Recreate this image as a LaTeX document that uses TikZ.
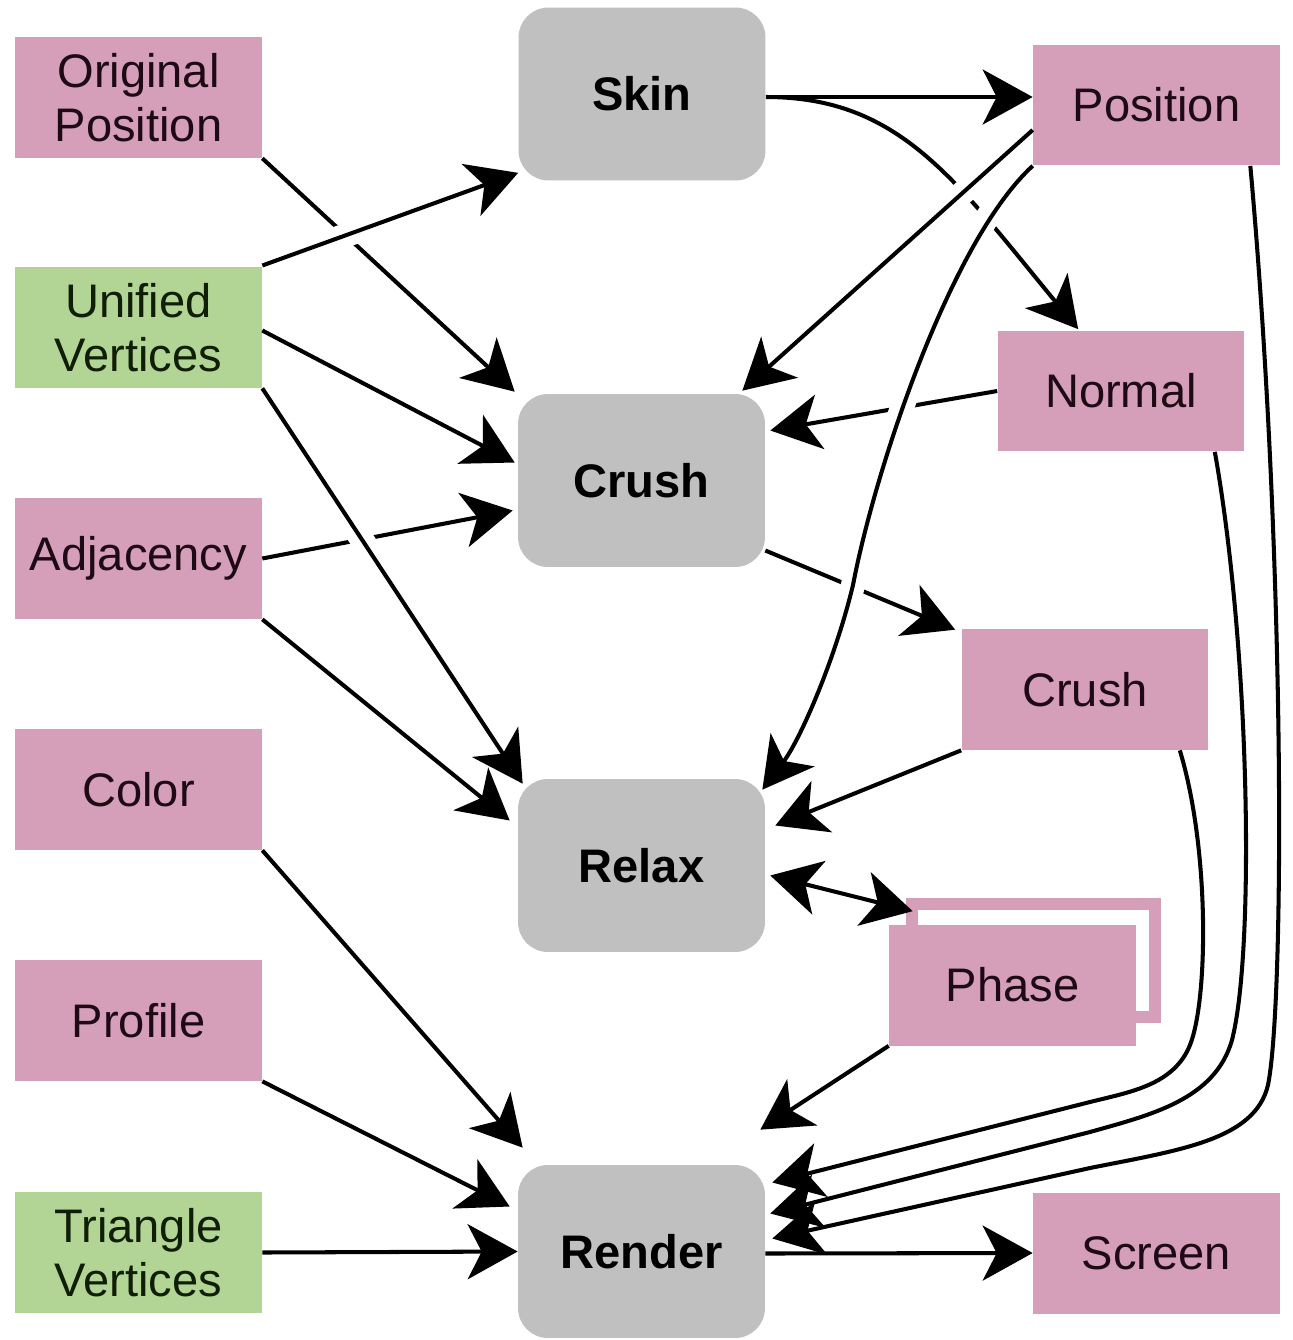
\documentclass[tikz,border=0pt]{standalone}
\usepackage{fontspec}
\setmainfont{Liberation Sans}
\usetikzlibrary{arrows.meta,calc}
\definecolor{pinkbox}{RGB}{213,158,185}
\definecolor{greenbox}{RGB}{178,212,148}
\definecolor{graybox}{RGB}{192,192,192}
\definecolor{pinktext}{RGB}{30,10,20}
\definecolor{greentext}{RGB}{15,30,5}
\begin{document}
\begin{tikzpicture}[x=0.02cm,y=-0.02cm,
  pinknode/.style={rectangle, fill=pinkbox, minimum width=4.94cm, minimum height=2.42cm,
    align=center, inner sep=0pt, text=pinktext, font=\fontsize{26.8}{31}\selectfont},
  greennode/.style={pinknode, fill=greenbox, text=greentext},
  graynode/.style={rectangle, rounded corners=0.6cm, fill=graybox, minimum width=4.94cm,
    minimum height=3.46cm, inner sep=0pt, font=\fontsize{26.8}{31}\selectfont\bfseries},
  backframe/.style={rectangle, draw=pinkbox, fill=white, line width=0.24cm, inner sep=0pt},
  conn/.style={line width=2.3pt, -{Stealth[length=1.0cm,width=1.1cm,inset=0.28cm]}},
  dconn/.style={line width=2.3pt, {Stealth[length=1.0cm,width=1.1cm,inset=0.28cm]}-{Stealth[length=1.0cm,width=1.1cm,inset=0.28cm]}},
  jumpover/.style={preaction={draw=white, line width=0.48cm, arrows=-, shorten <=0.4cm, shorten >=0.9cm}},
]
\useasboundingbox[fill=white] (0,0) rectangle (1293,1340);

% left column
\node[pinknode]  (orig)    at (138.5,97.5)  {Original\\Position};
\node[greennode] (unif)    at (138.5,327.5) {Unified\\Vertices};
\node[pinknode]  (adj)     at (138.5,558.5) {Adjacency};
\node[pinknode]  (color)   at (138.5,789.5) {Color};
\node[pinknode]  (profile) at (138.5,1020.5){Profile};
\node[greennode] (tri)     at (138.5,1252.5){Triangle\\Vertices};

% middle column
\node[graynode] (skin)   at (642,94)    {Skin};
\node[graynode] (crushg) at (641.5,480.5) {Crush};
\node[graynode] (relax)  at (641.5,865.5) {Relax};
\node[graynode] (render) at (641.5,1251.5){Render};

% right column
\node[pinknode] (pos)    at (1156.5,105) {Position};
\node[pinknode] (normal) at (1121,391)   {Normal};
\node[pinknode] (crushp) at (1085,689.5) {Crush};
\node[backframe, minimum width=4.86cm, minimum height=2.26cm] (phaseback) at (1033.5,960.5) {};
\node[pinknode] (phase)  at (1012.5,985) {Phase};
\node[pinknode] (screen) at (1156.5,1253){Screen};

% connectors that are interrupted by crossing lines (drawn first)
\draw[conn] (orig.south east) -- ($(crushg.north west)+(-3,-2)$);
\draw[conn] (adj.east) -- ($(crushg.west)+(-5,30)$);
\draw[conn] ($(skin.east)+(0,3)$) .. controls (900,97) and (955,180) .. ($(normal.north west)+(81,-1)$);
\draw[conn] (normal.west) -- ($(crushg.east)+(5,-50)$);
\draw[conn] ($(crushg.east)+(0,70)$) -- ($(crushp.north west)+(-6,1)$);

% crossing connectors (jump over the ones above)
\draw[conn, jumpover] ($(unif.east)+(0,-62)$) -- ($(skin.south west)+(0,-8)$);
\draw[conn, jumpover] (unif.south east) -- ($(relax.north west)+(5,5)$);
\draw[conn, jumpover] ($(pos.west)+(0,25)$) -- ($(crushg.north east)+(-23,-3)$);
\draw[conn, jumpover] (pos.south west) .. controls (950,242) and (875,470) .. (853,585)
  .. controls (835,660) and (800,740) .. ($(relax.north east)+(-3,11)$);

% remaining connectors
\draw[conn] ($(unif.east)+(0,3)$) -- ($(crushg.west)+(-3,-18)$);
\draw[conn] (adj.south east) -- ($(relax.west)+(-8,-45)$);
\draw[conn] (color.south east) -- ($(render.north west)+(5,-17)$);
\draw[conn] (profile.south east) -- ($(render.west)+(-8,-45)$);
\draw[conn] (tri.east) -- (render.west);

\draw[conn] ($(skin.east)+(0,3)$) -- ($(pos.west)+(0,-8)$);

\draw[conn] ($(pos.south east)+(-30,0)$) .. controls (1285,550) and (1285,1000) .. (1268,1085)
  .. controls (1255,1140) and (1180,1150) .. (1090,1168) -- ($(render.east)+(7,-13)$);
\draw[conn] ($(normal.south east)+(-30,0)$) .. controls (1250,650) and (1255,950) .. (1232,1040)
  .. controls (1215,1100) and (1150,1115) .. (1090,1132) -- ($(render.east)+(5,-38)$);
\draw[conn] (crushp.south west) -- ($(relax.east)+(10,-40)$);
\draw[conn] ($(crushp.south east)+(-29,0)$) .. controls (1210,850) and (1208,1000) .. (1190,1045)
  .. controls (1174,1085) and (1130,1092) .. (1090,1102) -- ($(render.east)+(7,-69)$);

\draw[dconn] ($(relax.east)+(5,10)$) -- ($(phase.north west)+(24,-13)$);
\draw[conn] (phase.south west) -- ($(render.north east)+(-5,-35)$);

\draw[conn] ($(render.east)+(0,2)$) -- (screen.west);
\end{tikzpicture}
\end{document}
